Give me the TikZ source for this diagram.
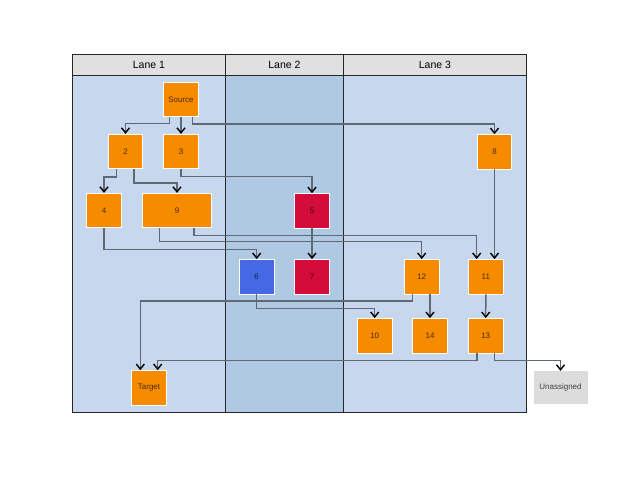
\documentclass[tikz,border=0pt]{standalone}
\usepackage{fontspec}
\setmainfont{Liberation Sans}
\usetikzlibrary{arrows.meta}
\definecolor{laneA}{RGB}{199,215,237}
\definecolor{laneB}{RGB}{175,201,227}
\definecolor{headfill}{RGB}{224,224,224}
\definecolor{orangebox}{RGB}{246,139,0}
\definecolor{redbox}{RGB}{212,12,58}
\definecolor{bluebox}{RGB}{70,104,226}
\definecolor{greybox}{RGB}{220,220,220}
\definecolor{wire}{RGB}{95,105,118}
\tikzset{
  lanebody/.style={draw=black!85, line width=0.8pt},
  lanehead/.style={draw=black!85, line width=0.8pt, fill=headfill},
  lanetitle/.style={font=\fontsize{10.5}{12}\selectfont, text=black},
  task/.style={draw=white, line width=0.7pt, minimum width=34.5pt, minimum height=34.5pt,
    inner sep=0pt, font=\fontsize{8}{9}\selectfont, text=black, text opacity=0.7},
  orangetask/.style={task, fill=orangebox},
  redtask/.style={task, fill=redbox},
  bluetask/.style={task, fill=bluebox},
  wide/.style={minimum width=69pt},
  spare/.style={task, draw=none, fill=greybox, minimum width=54pt, minimum height=33pt},
  edge/.style={draw=wire, line width=1.5pt,
    -{Straight Barb[length=5pt,width=8pt,line width=1.4pt,color=black]}},
}
\begin{document}
\begin{tikzpicture}[x=1pt,y=-1pt]
\useasboundingbox (0,0) rectangle (640,480);
% swimlane bodies
\fill[laneA] (72,75) rectangle (225,412);
\fill[laneB] (225,75) rectangle (343,412);
\fill[laneA] (343,75) rectangle (526,412);
\draw[lanebody] (72,54) rectangle (526,412);
\draw[lanebody] (225,54) -- (225,412);
\draw[lanebody] (343,54) -- (343,412);
% lane headers
\node[lanehead, minimum width=153pt, minimum height=21pt, inner sep=0pt, anchor=north west] (h1) at (72,54) {};
\node[lanehead, minimum width=118pt, minimum height=21pt, inner sep=0pt, anchor=north west] (h2) at (225,54) {};
\node[lanehead, minimum width=183pt, minimum height=21pt, inner sep=0pt, anchor=north west] (h3) at (343,54) {};
\node[lanetitle] (t1) at (h1) {Lane 1};
\node[lanetitle] (t2) at (h2) {Lane 2};
\node[lanetitle] (t3) at (h3) {Lane 3};

% tasks
\node[orangetask] (src) at (181,99.5) {Source};
\node[orangetask] (n2) at (125.5,151.5) {2};
\node[orangetask] (n3) at (181,151.5) {3};
\node[orangetask] (n8) at (494.5,151.8) {8};
\node[orangetask] (n4) at (104,210.5) {4};
\node[orangetask, wide] (n9) at (177,210.5) {9};
\node[redtask] (n5) at (312,210.8) {5};
\node[bluetask] (n6) at (256.7,276.7) {6};
\node[redtask] (n7) at (312,276.7) {7};
\node[orangetask] (n12) at (421.7,276.7) {12};
\node[orangetask] (n11) at (485.8,276.7) {11};
\node[orangetask] (n10) at (374.7,335.7) {10};
\node[orangetask] (n14) at (430,335.7) {14};
\node[orangetask] (n13) at (485.7,335.7) {13};
\node[orangetask] (tgt) at (149,387.8) {Target};
\node[spare] (un) at (560.5,387.7) {Unassigned};

% connectors
\draw[edge] ([xshift=-11.7pt]src.south) -- ++(0,6.6) -| (n2.north);
\draw[edge] (src.south) -- (n3.north);
\draw[edge] ([xshift=11.7pt]src.south) -- ++(0,7) -| (n8.north);
\draw[edge] ([xshift=-8.8pt]n2.south) -- ++(0,8) -| (n4.north);
\draw[edge] ([xshift=8.5pt]n2.south) -- ++(0,14) -| (n9.north);
\draw[edge] (n3.south) -- ++(0,7.3) -| (n5.north);
\draw[edge] (n4.south) -- ++(0,21.3) -| (n6.north);
\draw[edge] ([xshift=-17.7pt]n9.south) -- ++(0,13.3) -| (n12.north);
\draw[edge] ([xshift=17pt]n9.south) -- ++(0,7.3) -| ([xshift=-9.1pt]n11.north);
\draw[edge] (n5.south) -- (n7.north);
\draw[edge] (n8.south) -- ([xshift=8.7pt]n11.north);
\draw[edge] (n6.south) -- ++(0,14) -| (n10.north);
\draw[edge] ([xshift=-9pt]n12.south) -- ++(0,6.5) -| ([xshift=-8.7pt]tgt.north);
\draw[edge] ([xshift=8.3pt]n12.south) -- (n14.north);
\draw[edge] (n11.south) -- (n13.north);
\draw[edge] ([xshift=-8.7pt]n13.south) -- ++(0,7) -| ([xshift=8.7pt]tgt.north);
\draw[edge] ([xshift=8.6pt]n13.south) -- ++(0,7) -| (un.north);
\end{tikzpicture}
\end{document}
